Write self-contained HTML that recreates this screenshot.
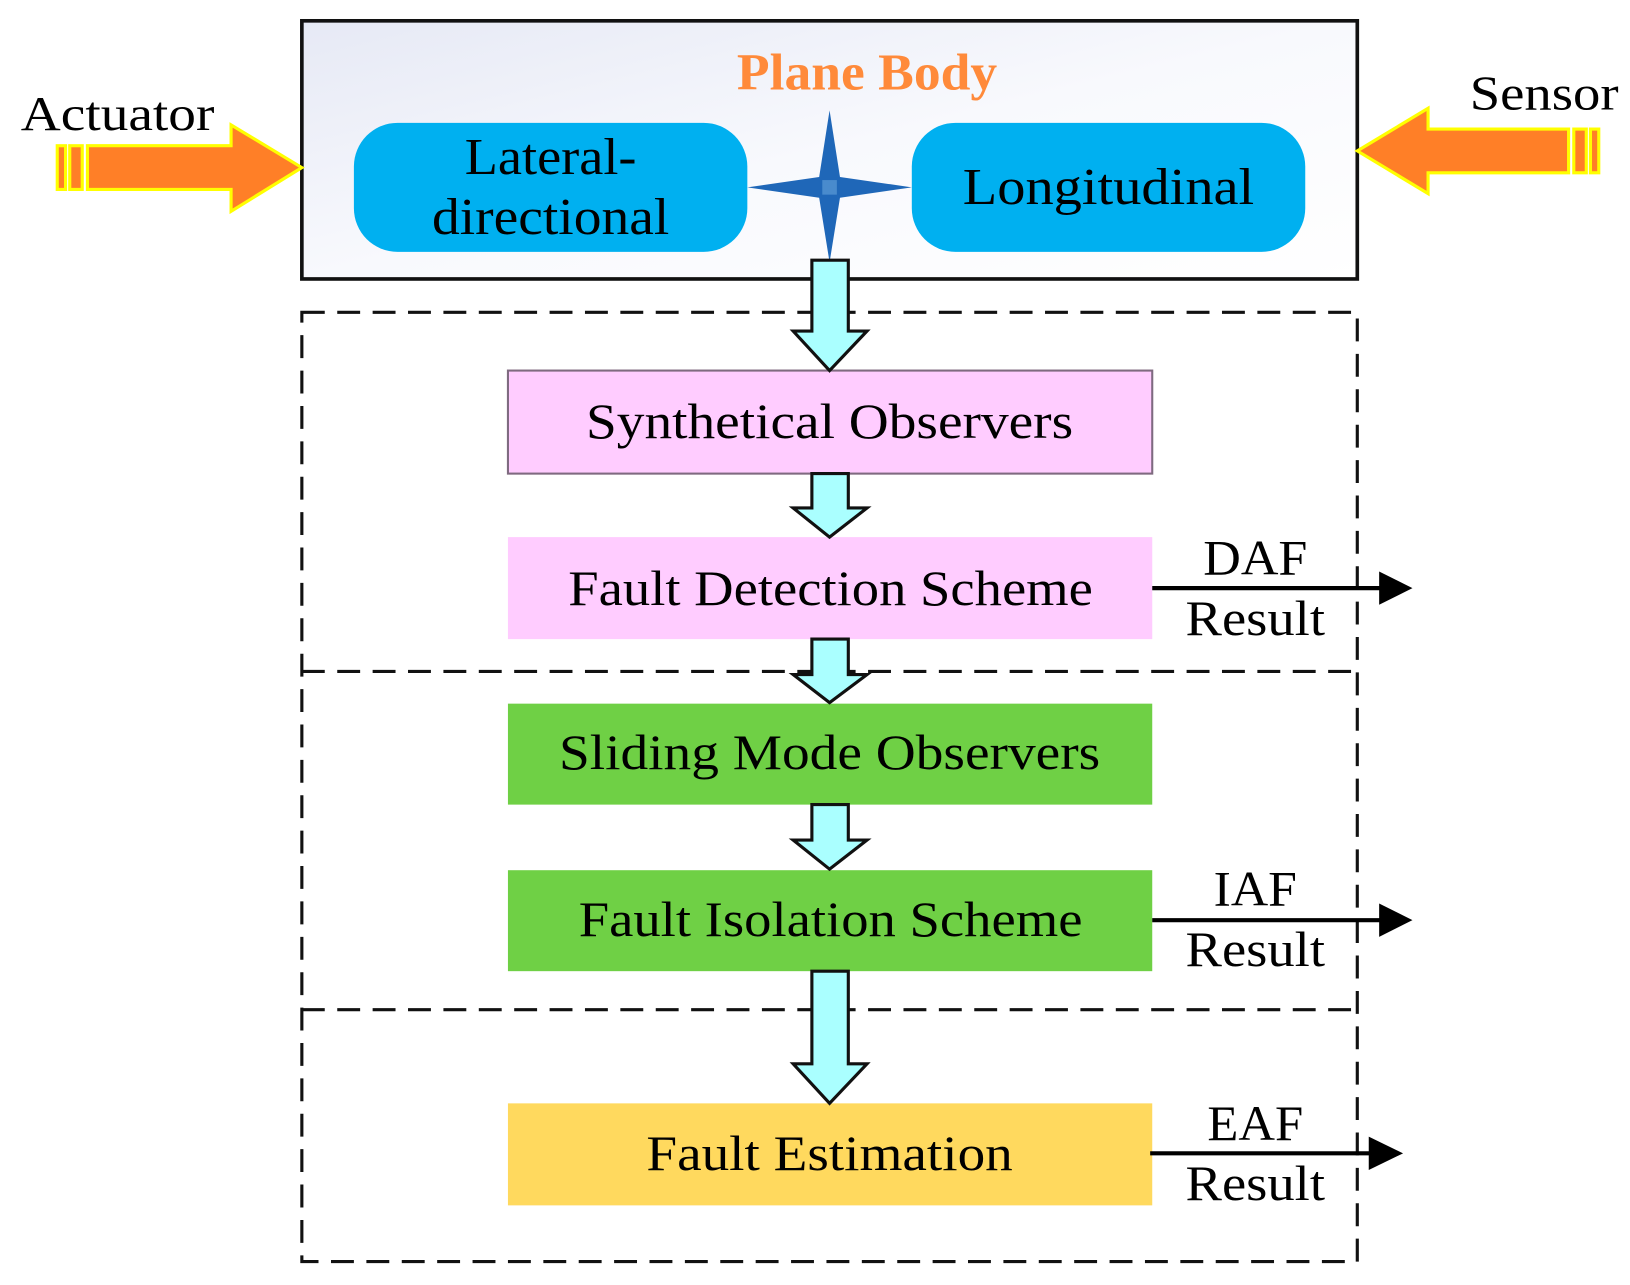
<!DOCTYPE html>
<html><head><meta charset="utf-8"><style>
html,body{margin:0;padding:0;background:#fff;}
svg{display:block}
text{font-family:"Liberation Serif",serif;fill:#000}
</style></head><body>
<svg width="1630" height="1285" viewBox="0 0 1566 1234.5" preserveAspectRatio="none" xmlns="http://www.w3.org/2000/svg">
<defs>
<linearGradient id="bg" x1="0" y1="0" x2="1" y2="1">
<stop offset="0" stop-color="#e6e9f5"/><stop offset="0.5" stop-color="#f8f9fd"/><stop offset="1" stop-color="#ffffff"/>
</linearGradient>
</defs>
<rect x="290" y="20" width="1014" height="248" fill="url(#bg)" stroke="#111" stroke-width="3.5"/>
<text x="833" y="86" font-size="50" font-weight="bold" text-anchor="middle" style="fill:#ff8a3a" textLength="250" lengthAdjust="spacingAndGlyphs">Plane Body</text>
<rect x="340" y="118" width="378" height="124" rx="42" fill="#00b0f0"/>
<rect x="876" y="118" width="378" height="124" rx="42" fill="#00b0f0"/>
<text x="529" y="167" font-size="50" text-anchor="middle" textLength="165" lengthAdjust="spacingAndGlyphs">Lateral-</text>
<text x="529" y="225" font-size="50" text-anchor="middle" textLength="228" lengthAdjust="spacingAndGlyphs">directional</text>
<text x="1065" y="196" font-size="50" text-anchor="middle" textLength="280" lengthAdjust="spacingAndGlyphs">Longitudinal</text>
<polygon points="797,106 807,170 876,180 807,190 797,252 787,190 718,180 787,170" fill="#1f67b8"/>
<rect x="790" y="173" width="14" height="14" fill="#5b9bd5" opacity="0.7"/>
<text x="20" y="125" font-size="47" textLength="186" lengthAdjust="spacingAndGlyphs">Actuator</text>
<g fill="#ff7f27" stroke="#ffff00" stroke-width="3">
<rect x="55" y="140" width="8" height="42"/>
<rect x="67" y="140" width="12" height="42"/>
<polygon points="84,140 222,140 222,120 290,161 222,203 222,182 84,182"/>
</g>
<text x="1412" y="105" font-size="47" textLength="143" lengthAdjust="spacingAndGlyphs">Sensor</text>
<g fill="#ff7f27" stroke="#ffff00" stroke-width="3">
<rect x="1528" y="124" width="8" height="42"/>
<rect x="1512" y="124" width="12" height="42"/>
<polygon points="1507,124 1372,124 1372,104 1304,145 1372,186 1372,166 1507,166"/>
</g>
<g fill="none" stroke="#111" stroke-width="3" stroke-dasharray="22,12">
<rect x="290" y="300" width="1014" height="912"/>
<line x1="290" y1="645" x2="1304" y2="645"/>
<line x1="290" y1="970" x2="1304" y2="970"/>
</g>
<rect x="488" y="356" width="619" height="99" fill="#ffccff" stroke="#7f6a80" stroke-width="2"/>
<rect x="488" y="516" width="619" height="98" fill="#ffccff"/>
<rect x="488" y="676" width="619" height="97" fill="#6fd045"/>
<rect x="488" y="836" width="619" height="97" fill="#6fd045"/>
<rect x="488" y="1060" width="619" height="98" fill="#ffd95e"/>
<g font-size="48" text-anchor="middle">
<text x="797" y="421" textLength="468" lengthAdjust="spacingAndGlyphs">Synthetical Observers</text>
<text x="798" y="581" textLength="504" lengthAdjust="spacingAndGlyphs">Fault Detection Scheme</text>
<text x="797" y="739" textLength="520" lengthAdjust="spacingAndGlyphs">Sliding Mode Observers</text>
<text x="798" y="899" textLength="484" lengthAdjust="spacingAndGlyphs">Fault Isolation Scheme</text>
<text x="797" y="1124" textLength="352" lengthAdjust="spacingAndGlyphs">Fault Estimation</text>
</g>
<g fill="#aaffff" stroke="#111" stroke-width="3" stroke-linejoin="miter">
<polygon points="780,250 815,250 815,318 833,318 797,356 762,318 780,318"/>
<polygon points="780,455 815,455 815,488 833,488 797,516 762,488 780,488"/>
<polygon points="780,614 815,614 815,648 833,648 797,675 762,648 780,648"/>
<polygon points="780,773 815,773 815,807 833,807 797,835 762,807 780,807"/>
<polygon points="780,933 815,933 815,1022 833,1022 797,1060 762,1022 780,1022"/>
</g>
<g stroke="#000" stroke-width="4"><line x1="1107" y1="565" x2="1330" y2="565"/><line x1="1107" y1="884" x2="1330" y2="884"/><line x1="1105" y1="1108" x2="1320" y2="1108"/></g>
<polygon points="1325,549 1357,565 1325,581" fill="#000"/>
<polygon points="1325,868 1357,884 1325,900" fill="#000"/>
<polygon points="1315,1092 1348,1108 1315,1124" fill="#000"/>
<g font-size="48" text-anchor="middle">
<text x="1206" y="552" textLength="100" lengthAdjust="spacingAndGlyphs">DAF</text>
<text x="1206" y="610" textLength="134" lengthAdjust="spacingAndGlyphs">Result</text>
<text x="1206" y="870" textLength="80" lengthAdjust="spacingAndGlyphs">IAF</text>
<text x="1206" y="928" textLength="134" lengthAdjust="spacingAndGlyphs">Result</text>
<text x="1206" y="1095" textLength="92" lengthAdjust="spacingAndGlyphs">EAF</text>
<text x="1206" y="1153" textLength="134" lengthAdjust="spacingAndGlyphs">Result</text>
</g>
</svg>
</body></html>
